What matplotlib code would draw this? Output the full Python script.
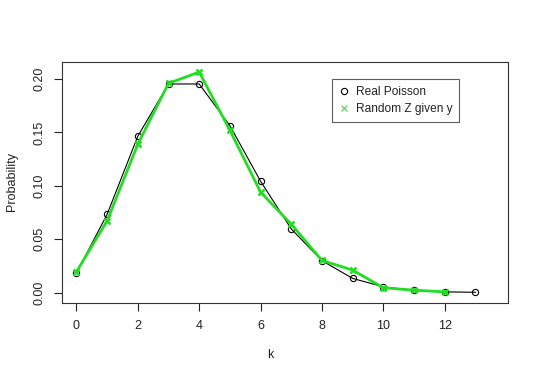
import matplotlib
matplotlib.use("Agg")
import matplotlib.pyplot as plt
from matplotlib.lines import Line2D

k_real = list(range(0, 14))
p_real = [0.0183, 0.0733, 0.1465, 0.1954, 0.1954, 0.1563, 0.1042,
          0.0595, 0.0298, 0.0132, 0.0053, 0.0019, 0.0006, 0.0002]
k_sim = list(range(0, 13))
p_sim = [0.0194, 0.0672, 0.139, 0.196, 0.2066, 0.152, 0.094,
         0.064, 0.030, 0.021, 0.0044, 0.0022, 0.0006]
xticks = [0, 2, 4, 6, 8, 10, 12]
yticks = [0.00, 0.05, 0.10, 0.15, 0.20]
ytick_labels = ["0.00", "0.05", "0.10", "0.15", "0.20"]

plt.rcParams['font.family'] = ['Liberation Sans', 'DejaVu Sans']
fig = plt.figure(figsize=(5.4, 3.8), dpi=100)
ax = fig.add_axes([0.1154, 0.203, 0.8248, 0.633])

ax.plot(k_real, p_real, color='black', lw=0.8, marker='o', ms=4.5,
        mfc='none', mec='black', mew=0.8, label='Real Poisson')
ax.plot(k_sim, p_sim, color='#22dd22', lw=2, marker='x', ms=5,
        mew=1.8, label='Random Z given y')

ax.set_xlim(-0.46, 14.05)
ax.set_ylim(-0.0097, 0.2157)
ax.set_xticks(xticks)
ax.set_xticklabels([str(t) for t in xticks])
ax.set_yticks(yticks)
ax.set_yticklabels(ytick_labels, rotation=90, va='center')
ax.tick_params(direction='out', length=6, width=0.8, labelsize=9, pad=6, colors='#222222')
for s in ax.spines.values():
    s.set_linewidth(0.8)
    s.set_color('#333333')

fig.text(0.5, 1 - 355 / 380, 'k', ha='center', va='center', fontsize=9, color='#222222')
fig.text(12 / 540, 1 - 182 / 380, 'Probability', rotation=90, ha='center', va='center',
         fontsize=9, color='#222222')

h1 = Line2D([], [], color='black', marker='o', ls='none', ms=4.5, mfc='none', mew=0.8)
h2 = Line2D([], [], color='#66cc66', marker='x', ls='none', ms=5, mew=0.9)
leg = ax.legend([h1, h2], ['Real Poisson', 'Random Z given y'],
                loc='upper left', bbox_to_anchor=((332.3 - 62.3) / 445.4, (303 - 79) / 240.4),
                prop={'size': 8.6}, frameon=True, fancybox=False, edgecolor='#333333',
                handlelength=0.8, handletextpad=0.55, borderpad=0.6, labelspacing=0.45,
                borderaxespad=0)
leg.get_frame().set_linewidth(0.8)
for t in leg.get_texts():
    t.set_color('#222222')

fig.savefig('out.png', dpi=100, facecolor='white')
